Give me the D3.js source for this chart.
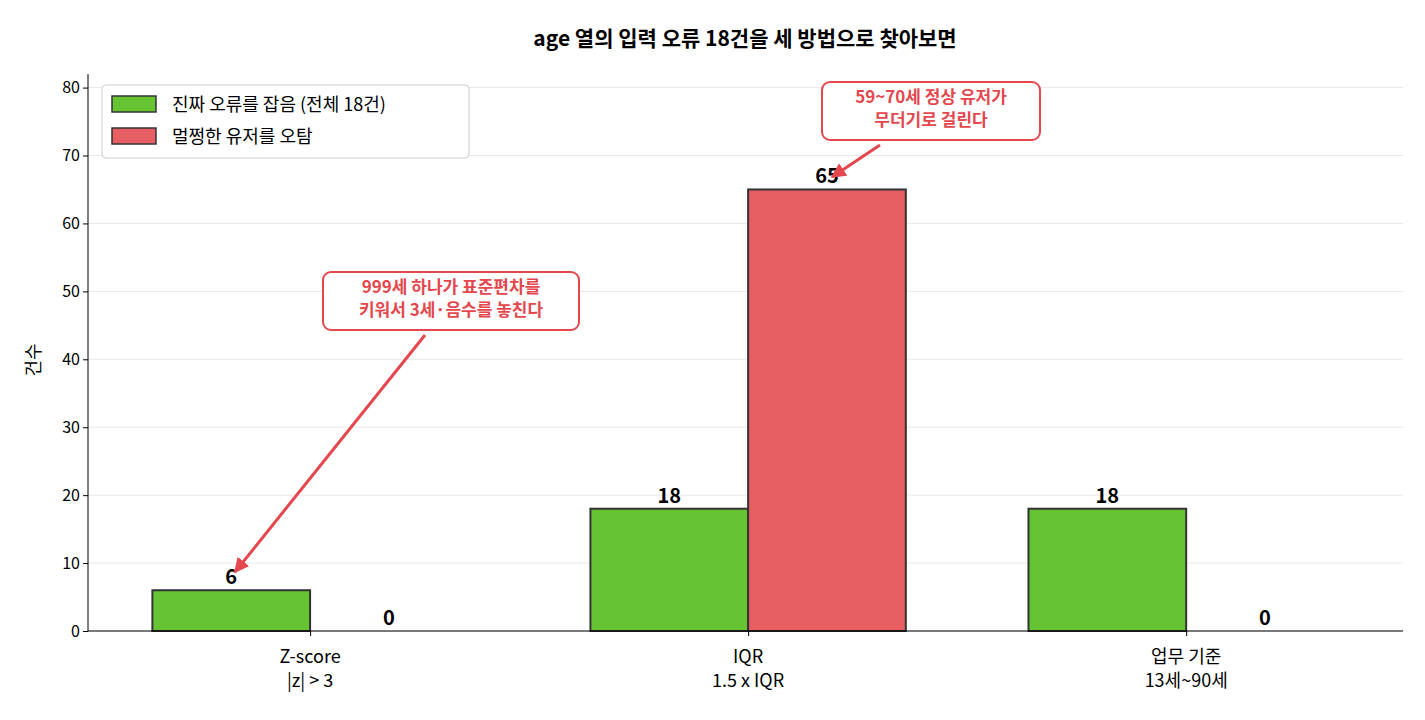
<!DOCTYPE html><html><head><meta charset="utf-8">
<script src="https://cdn.jsdelivr.net/npm/d3@7"></script>
<style>body{margin:0;background:#fff}text{font-family:"Noto Sans CJK KR","Noto Sans",sans-serif}</style></head><body>
<svg id="c" width="1425" height="720"></svg>
<script>
const categories=["Z-score\n|z| > 3","IQR\n1.5 x IQR","업무 기준\n13세~90세"];
const trueHits=[6,18,18];
const falseHits=[0,65,0];
const yTicks=[0,10,20,30,40,50,60,70,80];
const seriesNames=["진짜 오류를 잡음 (전체 18건)","멀쩡한 유저를 오탐"];
const colors=["#66c434","#e75e63"];
const svg=d3.select("#c");
const L=88,R=1403,T=74,B=631;
const x=d3.scaleLinear().domain([-0.507,2.495]).range([L,R]);
const y=d3.scaleLinear().domain([0,82]).range([B,T]);
const w=0.36;
svg.append("text").attr("x",745).attr("y",46).attr("text-anchor","middle").attr("font-size",21).attr("font-weight","bold").text("age 열의 입력 오류 18건을 세 방법으로 찾아보면");
const g=svg.append("g");
yTicks.forEach(t=>{g.append("line").attr("x1",L).attr("x2",R).attr("y1",y(t)).attr("y2",y(t)).attr("stroke","#e8e8e8");});
[trueHits,falseHits].forEach((s,si)=>{s.forEach((v,i)=>{
 const x0=x(i+(si===0?-w:0)),x1=x(i+(si===0?0:w));
 g.append("rect").attr("x",x0).attr("y",y(v)).attr("width",x1-x0).attr("height",y(0)-y(v)).attr("fill",colors[si]).attr("stroke","#333").attr("stroke-width",2);
 g.append("text").attr("x",(x0+x1)/2).attr("y",y(v)-6).attr("text-anchor","middle").attr("font-size",20).attr("font-weight","bold").text(v);
});});
const ya=d3.axisLeft(y).tickValues(yTicks).tickSize(5);
const ag=svg.append("g").attr("transform",`translate(${L},0)`).call(ya);
ag.select(".domain").attr("d",`M0,${B}V${T}`);
ag.selectAll("text").attr("font-size",16).attr("fill","#000");
const xa=svg.append("g").attr("transform",`translate(0,${B})`).call(d3.axisBottom(x).tickValues([0,1,2]).tickSize(5).tickFormat(""));
xa.select(".domain").attr("d",`M${L},0H${R}`);
categories.forEach((c,i)=>{c.split("\n").forEach((ln,j)=>svg.append("text").attr("x",x(i)).attr("y",B+32+j*24).attr("text-anchor","middle").attr("font-size",18).text(ln));});
svg.append("text").attr("transform","translate(40,360) rotate(-90)").attr("text-anchor","middle").attr("font-size",18).text("건수");
// legend
const lg=svg.append("g");
lg.append("rect").attr("x",102).attr("y",85).attr("width",367).attr("height",73).attr("rx",4).attr("fill","#fff").attr("stroke","#ccc");
seriesNames.forEach((n,i)=>{
 lg.append("rect").attr("x",112).attr("y",96+i*32).attr("width",44).attr("height",16).attr("fill",colors[i]).attr("stroke","#333").attr("stroke-width",1.5);
 lg.append("text").attr("x",172).attr("y",111+i*32).attr("font-size",18).text(n);
});
svg.append("defs").append("marker").attr("id","ar").attr("viewBox","0 0 10 10").attr("refX",9).attr("refY",5).attr("markerWidth",5).attr("markerHeight",5).attr("orient","auto").append("path").attr("d","M0,0L10,5L0,10z").attr("fill","#e4474d");
function note(cx,cy,lines,bw,fx,fy,tx,ty){
 svg.append("line").attr("x1",fx).attr("y1",fy).attr("x2",tx).attr("y2",ty).attr("stroke","#e4474d").attr("stroke-width",3).attr("marker-end","url(#ar)");
 svg.append("rect").attr("x",cx-bw/2).attr("y",cy-28).attr("width",bw).attr("height",58).attr("rx",8).attr("fill","#fff").attr("stroke","#e4474d").attr("stroke-width",2);
 lines.forEach((l,j)=>svg.append("text").attr("x",cx).attr("y",cy-7+j*23).attr("text-anchor","middle").attr("font-size",17).attr("font-weight","bold").attr("fill","#e4474d").text(l));
}
note(451,300,["999세 하나가 표준편차를","키워서 3세·음수를 놓친다"],256,425,335,235,572);
note(931,110,["59~70세 정상 유저가","무더기로 걸린다"],218,880,145,832,177);
</script></body></html>
